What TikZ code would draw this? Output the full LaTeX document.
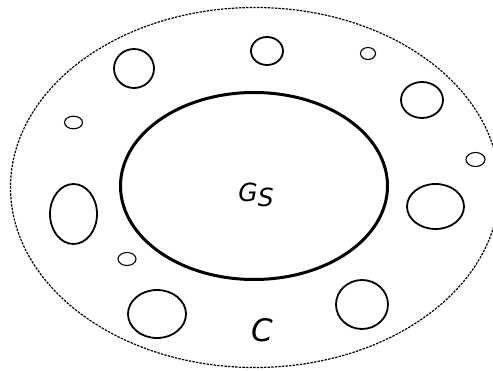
\documentclass[tikz,border=0pt]{standalone}
\usepackage{fontspec}
\setmainfont{DejaVu Sans}
\newcommand{\labelfont}[1]{\fontsize{#1}{#1}\selectfont\itshape}
\begin{document}
\begin{tikzpicture}[x=1pt,y=-1pt,
  region/.style={draw=black,line width=3pt},
  blob/.style={draw=black,line width=1.8pt},
  speck/.style={draw=black,line width=1.1pt},
  border/.style={draw=black,line width=1.2pt,dash pattern=on 2.4pt off 1.2pt},
  lbl/.style={inner sep=0pt,anchor=base}]
\useasboundingbox (0,0) rectangle (493,371);
\begin{scope}
  \clip (0,0) rectangle (493,371);
  % dotted outer boundary
  \draw[border] (255,187.5) ellipse (244.5 and 180);
\end{scope}
% the inner set
\draw[region] (254,186) ellipse (133.5 and 93.5);
% larger components
\draw[blob] (134,68.5) ellipse (20 and 19.5);
\draw[blob] (267,51) ellipse (16 and 14);
\draw[blob] (422,100) ellipse (21 and 18);
\draw[blob] (73.5,214) ellipse (23.5 and 30);
\draw[blob] (435.5,206.5) ellipse (28.5 and 22.5);
\draw[blob] (157,314) ellipse (29 and 24);
\draw[blob] (362,304.5) ellipse (26 and 24.5);
% small components
\draw[speck] (368,53.5) ellipse (7.5 and 6);
\draw[speck] (475.5,159.5) ellipse (9.5 and 7);
\draw[speck] (73.5,122.5) ellipse (9 and 6.3);
\draw[speck] (127,259) ellipse (9 and 6.5);
% labels
\node[lbl] (gs) at (256,202) {\labelfont{25}G\raisebox{-5pt}{S}};
\node[lbl] (c) at (262,342) {\labelfont{31}C};
\end{tikzpicture}
\end{document}
